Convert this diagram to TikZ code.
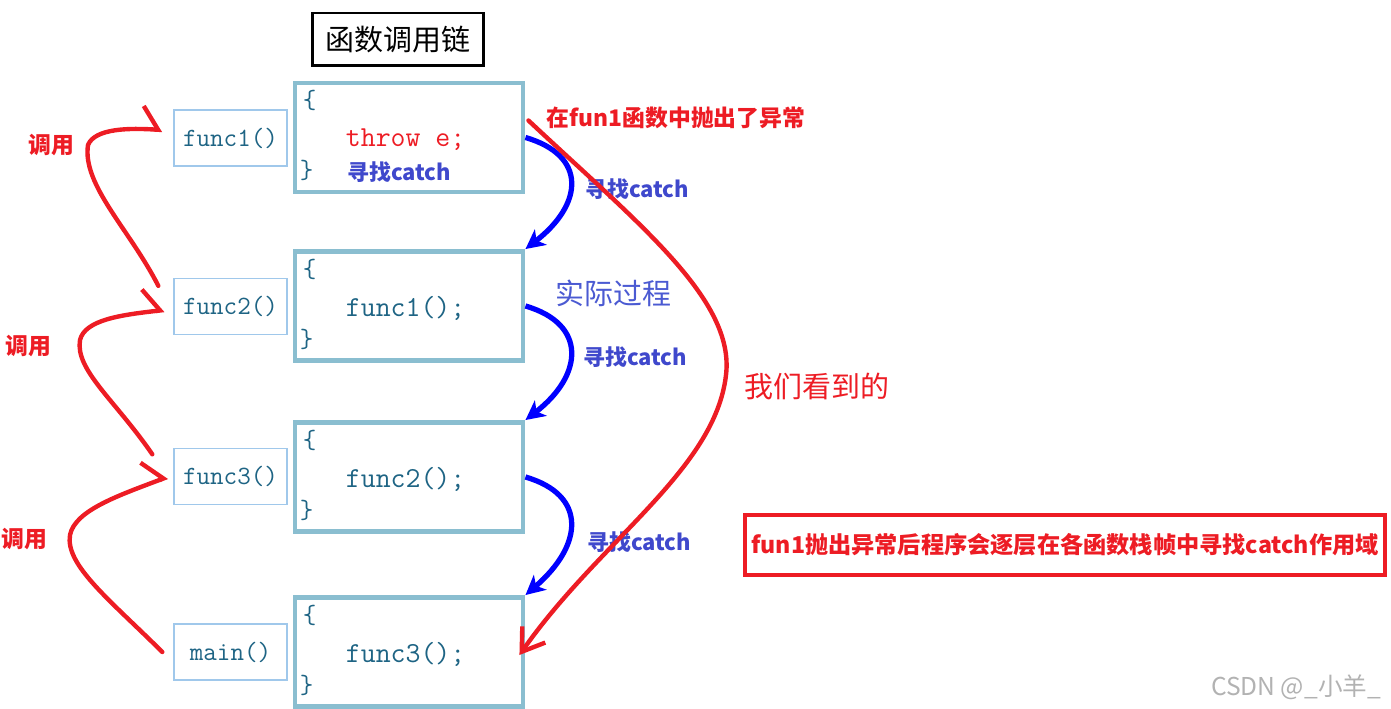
\documentclass[tikz,border=0pt]{standalone}
\usepackage{fontspec}
\newfontfamily\cjk{Noto Sans CJK SC}
\usetikzlibrary{arrows.meta}
\definecolor{boxblue}{RGB}{138,190,208}
\definecolor{thinblue}{RGB}{160,200,235}
\definecolor{codeteal}{RGB}{30,100,132}
\definecolor{mred}{RGB}{237,28,36}
\definecolor{lblue}{RGB}{63,72,204}
\definecolor{pblue}{RGB}{75,90,210}
\begin{document}
\begin{tikzpicture}[x=0.02cm,y=-0.02cm,
    frame/.style={draw=boxblue,line width=2.8pt,minimum width=4.56cm,minimum height=2.18cm},
    fbox/.style={draw=thinblue,line width=0.8pt,minimum width=2.26cm,minimum height=1.12cm,font=\ttfamily\fontsize{15}{15}\selectfont,text=codeteal},
    code/.style={anchor=west,inner sep=0pt,font=\ttfamily\fontsize{16.5}{16.5}\selectfont,text=codeteal},
    brace/.style={inner sep=0pt,font=\ttfamily\fontsize{15}{15}\selectfont,text=codeteal},
    findlbl/.style={font=\cjk\bfseries\fontsize{12.5}{12.5}\selectfont,text=lblue},
    calllbl/.style={font=\cjk\bfseries\fontsize{13}{13}\selectfont,text=mred},
    findarr/.style={draw=blue,line width=3pt,-{Stealth[length=11pt,width=11pt,inset=3pt]}},
    callarr/.style={draw=mred,line width=2.5pt,line cap=round,-{Straight Barb[harpoon,length=9pt,width=26pt]}}]
  \useasboundingbox (0,0) rectangle (1391,709);
  \node[draw,line width=1.7pt,minimum width=3.44cm,minimum height=1.06cm,font=\cjk\fontsize{16.5}{16.5}\selectfont] (title) at (398,39.5) {函数调用链};
  % stack frames
  \node[frame] (b1) at (409,137.5) {};
  \node[frame] (b2) at (409,306) {};
  \node[frame] (b3) at (409,477) {};
  \node[frame] (b4) at (409,652) {};
  \foreach \b in {b1,b2,b3,b4}{
    \node[brace] (\b o) at ([shift={(17,20)}]\b.north west) {\{};
    \node[brace] (\b c) at ([shift={(14,-24)}]\b.south west) {\}};
  }
  \node[code,text=mred] (c1) at ([shift={(53,2)}]b1.west) {throw e;};
  \node[code] (c2) at ([shift={(53,2)}]b2.west) {func1();};
  \node[code] (c3) at ([shift={(53,2)}]b3.west) {func2();};
  \node[code] (c4) at ([shift={(53,2)}]b4.west) {func3();};
  \node[findlbl] (l0) at (399,172) {寻找catch};
  % callers
  \node[fbox] (f1) at (230.5,138) {func1()};
  \node[fbox] (f2) at (230.5,306.5) {func2()};
  \node[fbox] (f3) at (230.5,476.5) {func3()};
  \node[fbox] (fm) at (230.5,652) {main()};
  % looking for catch
  \draw[findarr] (b1.east) .. controls +(62,18) and +(58,-45) .. (b2.north east);
  \draw[findarr] (b2.east) .. controls +(62,18) and +(58,-45) .. (b3.north east);
  \draw[findarr] (b3.east) .. controls +(62,18) and +(58,-50) .. (b4.north east);
  \node[findlbl] (l1) at (637,189) {寻找catch};
  \node[findlbl] (l2) at (635,357) {寻找catch};
  \node[findlbl] (l3) at (639,542) {寻找catch};
  \node[font=\cjk\fontsize{16.5}{16.5}\selectfont,text=pblue] (actual) at (613,293) {实际过程};
  % what we see
  \coordinate (thr) at ([shift={(3,-17)}]b1.east);
  \draw[draw=mred,line width=2.5pt,line cap=round,-{Straight Barb[length=12pt,width=16pt]}] (thr) .. controls (640,225) and (735,300) .. (726,375) .. controls (715,470) and (600,540) .. ([shift={(-6,3)}]b4.east);
  \node[font=\cjk\bfseries\fontsize{13}{13}\selectfont,text=mred] (thrown) at (676,118) {在fun1函数中抛出了异常};
  \node[font=\cjk\fontsize{16.5}{16.5}\selectfont,text=mred] (seen) at (817,386) {我们看到的};
  % calls
  \draw[callarr] ([shift={(-15,8)}]f2.north west) .. controls (130,230) and (82,185) .. (88,145) .. controls (95,128) and (130,128) .. ([shift={(-11,-8)}]f1.west);
  \draw[callarr] ([shift={(-21,6.5)}]f3.north west) .. controls (115,400) and (75,370) .. (80,340) .. controls (85,320) and (120,315) .. ([shift={(-9,3.5)}]f2.west);
  \draw[callarr] ([shift={(-11,0)}]fm.west) .. controls (110,600) and (65,565) .. (70,535) .. controls (75,510) and (120,495) .. ([shift={(-6,0.5)}]f3.west);
  \node[calllbl] (k1) at (51,145) {调用};
  \node[calllbl] (k2) at (28,346) {调用};
  \node[calllbl] (k3) at (24,539) {调用};
  \node[draw=mred,line width=2pt,inner xsep=2pt,minimum width=12.8cm,minimum height=1.2cm,font=\cjk\bfseries\fontsize{13.2}{13.2}\selectfont,text=mred] (note) at (1065,545) {fun1抛出异常后程序会逐层在各函数栈帧中寻找catch作用域};
  \node[font=\cjk\fontsize{14}{14}\selectfont,text=black!30] (mark) at (1296,687) {CSDN @\_小羊\_};
\end{tikzpicture}
\end{document}
